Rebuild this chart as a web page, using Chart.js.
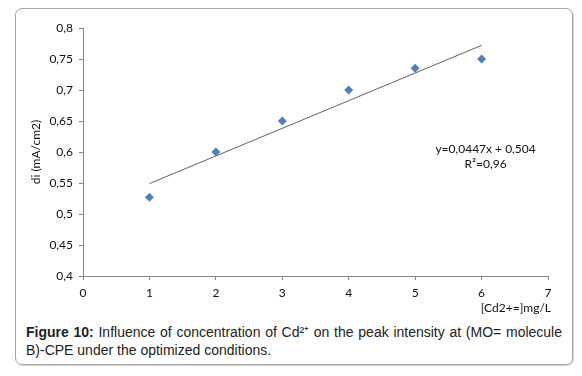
<!DOCTYPE html>
<html>
<head>
<meta charset="utf-8">
<script src="https://cdn.jsdelivr.net/npm/chart.js@4"></script>
<style>
  body { margin: 0; background: #fff; width: 582px; height: 376px; position: relative; overflow: hidden; }
  #frame { position: absolute; left: 15px; top: 8px; width: 556px; height: 355px; border: 1px solid #a6a6a6; border-radius: 7px; box-shadow: 1px 1px 1px #d0d0d0; }
  #wrap { position: absolute; left: 0; top: 0; width: 582px; height: 320px; }
  #caption { position: absolute; left: 26px; top: 323px; width: 536px; font-family: "Liberation Sans", Arial, sans-serif; font-size: 14px; line-height: 18px; color: #222; text-align: justify; text-align-last: left; }
  #caption b { font-weight: bold; }
</style>
</head>
<body>
<div id="frame"></div>
<div id="wrap"><canvas id="chart" width="582" height="320"></canvas></div>
<div id="caption"><b>Figure 10:</b> Influence of concentration of Cd²⁺ on the peak intensity at (MO= molecule B)-CPE under the optimized conditions.</div>
<script>
// Datos
const concentrations = [1, 2, 3, 4, 5, 6];
const currents = [0.527, 0.6, 0.65, 0.7, 0.735, 0.75];
const trendX = [1, 6];
const trendY = [0.549, 0.772];
const equationLines = ['y=0,0447x + 0,504', 'R²=0,96'];
const yTitle = 'di (mA/cm2)';
const xTitle = '[Cd2+=]mg/L';

const AXIS = '#868686';
const BLUE = '#4F81BD';
const FONT = 'Lato, "Open Sans", sans-serif';

function comma(v) {
    return (Math.round(v * 100) / 100).toString().replace('.', ',');
}

const textPlugin = {
    id: 'texts',
    afterDraw(chart) {
        const ctx = chart.ctx;
        const xs = chart.scales.x;
        const ys = chart.scales.y;
        ctx.save();
        ctx.fillStyle = '#111';
        ctx.font = '12px ' + FONT;
        ctx.textAlign = 'center';
        ctx.textBaseline = 'middle';
        // ecuación de la recta
        const ex = xs.getPixelForValue(6.06);
        ctx.fillText(equationLines[0], ex, ys.getPixelForValue(0.604));
        ctx.fillText(equationLines[1], ex, ys.getPixelForValue(0.58));
        // titulo eje x
        ctx.textAlign = 'right';
        ctx.fillText(xTitle, xs.right + 3, ys.bottom + 32);
        // titulo eje y
        ctx.translate(36, (ys.top + ys.bottom) / 2);
        ctx.rotate(-Math.PI / 2);
        ctx.textAlign = 'center';
        ctx.fillText(yTitle, 0, 0);
        ctx.restore();
    }
};

const ctx = document.getElementById('chart').getContext('2d');
new Chart(ctx, {
    type: 'scatter',
    data: {
        datasets: [{
            data: concentrations.map((x, i) => ({ x: x, y: currents[i] })),
            pointStyle: 'rectRot',
            pointRadius: 4.5,
            backgroundColor: BLUE,
            borderColor: BLUE,
            borderWidth: 0
        },
        {
            type: 'line',
            data: trendX.map((x, i) => ({ x: x, y: trendY[i] })),
            borderColor: '#3a3a3a',
            borderWidth: 0.8,
            pointRadius: 0,
            fill: false
        }]
    },
    options: {
        responsive: false,
        animation: false,
        layout: { autoPadding: false, padding: { top: 28, right: 34, left: 0, bottom: 0 } },
        plugins: { legend: { display: false }, tooltip: { enabled: false } },
        scales: {
            x: {
                type: 'linear',
                min: 0,
                max: 7,
                ticks: { stepSize: 1, color: '#111', font: { family: FONT, size: 12 }, padding: 6 },
                grid: { drawOnChartArea: false, drawTicks: true, tickLength: 4, color: AXIS },
                border: { color: AXIS },
                afterFit: (s) => { s.height = 44; }
            },
            y: {
                min: 0.4,
                max: 0.8,
                ticks: { stepSize: 0.05, color: '#111', font: { family: FONT, size: 12 }, padding: 6, callback: (v) => comma(v) },
                grid: { drawOnChartArea: false, drawTicks: true, tickLength: 4, color: AXIS },
                border: { color: AXIS },
                afterFit: (s) => { s.width = 83; }
            }
        }
    },
    plugins: [textPlugin]
});
</script>
</body>
</html>
